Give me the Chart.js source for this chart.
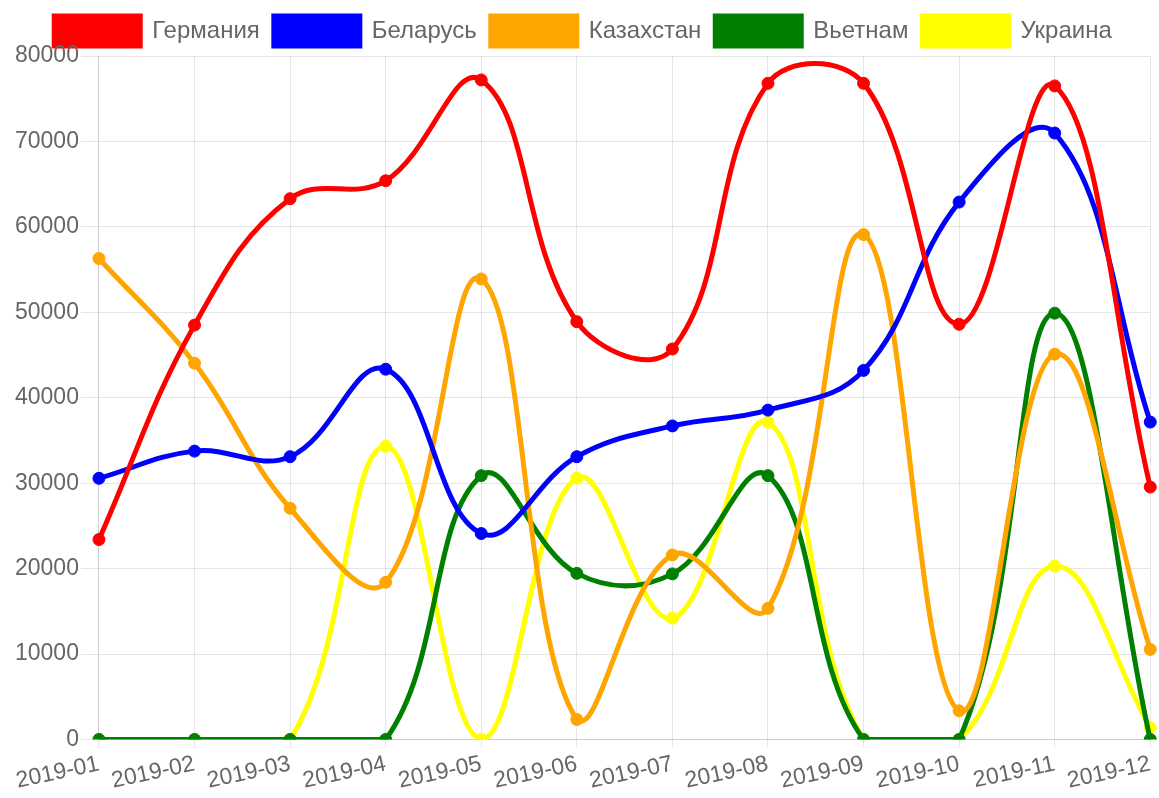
<!DOCTYPE html>
<html>
<head>
<meta charset="utf-8">
<script src="https://cdn.jsdelivr.net/npm/chart.js@4/dist/chart.umd.min.js"></script>
<style>
  html, body { margin: 0; padding: 0; background: #fff; }
  #wrap { width: 1159px; height: 798px; }
</style>
</head>
<body>
<div id="wrap"><canvas id="countries"></canvas></div>
<script>
let months = ["2019-01", "2019-02", "2019-03", "2019-04", "2019-05", "2019-06",
  "2019-07", "2019-08", "2019-09", "2019-10", "2019-11", "2019-12"];

let germany = [23400, 48500, 63300, 65400, 77200, 48900, 45700, 76800, 76800, 48600, 76500, 29550];
let belarus = [30570, 33750, 33100, 43340, 24100, 33100, 36700, 38550, 43200, 62900, 70980, 37150];
let kazakhstan = [56300, 44040, 27060, 18400, 53900, 2340, 21600, 15350, 59100, 3350, 45100, 10540];
let vietnam = [0, 0, 0, 0, 30880, 19440, 19380, 30880, 0, 0, 49900, 0];
let ukraine = [0, 0, 0, 34320, 0, 30600, 14200, 37130, 0, 0, 20300, 1400];

let names = ["Германия", "Беларусь", "Казахстан", "Вьетнам", "Украина"];
let colors = ["red", "blue", "orange", "green", "yellow"];
let series = [germany, belarus, kazakhstan, vietnam, ukraine];

Chart.defaults.font.family = "'Liberation Sans', Arial, Helvetica, sans-serif";
Chart.defaults.font.size = 23;
Chart.defaults.color = "#666";

let datasets = series.map((values, i) => ({
  label: names[i],
  data: values,
  borderColor: colors[i],
  backgroundColor: colors[i],
  borderWidth: 5,
  pointRadius: 6,
  pointBorderWidth: 1,
  tension: 0.4,
  fill: false,
}));

let ctx = document.getElementById("countries").getContext("2d");
new Chart(ctx, {
  type: "line",
  data: {
    labels: months,
    datasets: datasets,
  },
  options: {
    responsive: true,
    maintainAspectRatio: false,
    animation: false,
    layout: { padding: { left: 13, right: 6, top: 2, bottom: 0 } },
    plugins: {
      legend: {
        labels: {
          boxWidth: 86,
          boxHeight: 30,
          padding: 14,
          font: { size: 24 },
        },
      },
      tooltip: { enabled: false },
    },
    scales: {
      x: {
        grid: { color: "rgba(0,0,0,0.1)", tickLength: 8 },
        ticks: { minRotation: 12, maxRotation: 12, font: { size: 23 } },
      },
      y: {
        min: 0,
        max: 80000,
        grid: { color: "rgba(0,0,0,0.1)", tickLength: 18 },
        ticks: {
          stepSize: 10000,
          padding: 2,
          font: { size: 23 },
          callback: (value) => String(value),
        },
      },
    },
  },
});
</script>
</body>
</html>
